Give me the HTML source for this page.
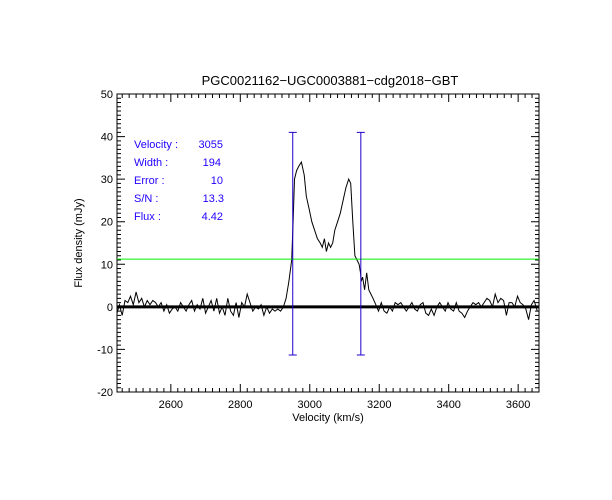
<!DOCTYPE html>
<html><head><meta charset="utf-8"><style>
body{margin:0;background:#fff;}
svg{display:block;font-family:"Liberation Sans",sans-serif;}
</style></head><body>
<svg id="chart" width="612" height="500">
<rect width="612" height="500" fill="#fff"/>
<text x="330" y="85" font-size="13" text-anchor="middle">PGC0021162−UGC0003881−cdg2018−GBT</text>
<text x="328" y="421" font-size="11" text-anchor="middle">Velocity (km/s)</text>
<text x="0" y="0" font-size="11" text-anchor="middle" transform="translate(82,243) rotate(-90)">Flux density (mJy)</text>
<g fill="#2200ff" font-size="11">
<text x="134" y="148">Velocity :</text><text x="223" y="148" text-anchor="end">3055</text>
<text x="134" y="166">Width :</text><text x="221" y="166" text-anchor="end">194</text>
<text x="134" y="184">Error :</text><text x="223" y="184" text-anchor="end">10</text>
<text x="134" y="202">S/N :</text><text x="224" y="202" text-anchor="end">13.3</text>
<text x="134" y="220">Flux :</text><text x="223" y="220" text-anchor="end">4.42</text>
</g>
</svg>
<script>
const velocities=[2445,2452,2460,2468,2476,2484,2492,2500,2508,2516,2524,2532,2540,2548,2556,2564,2572,2580,2588,2596,2604,2612,2620,2628,2636,2644,2652,2660,2668,2676,2684,2692,2700,2708,2716,2724,2732,2740,2748,2756,2764,2772,2780,2788,2796,2804,2812,2820,2828,2836,2844,2852,2860,2868,2876,2884,2892,2900,2908,2916,2924,2932,2940,2948,2952,2956,2962,2968,2976,2984,2990,2998,3006,3014,3022,3030,3036,3042,3048,3054,3060,3066,3072,3080,3088,3096,3104,3112,3118,3124,3130,3136,3142,3146,3148,3152,3158,3164,3170,3176,3182,3190,3198,3206,3214,3222,3230,3238,3246,3254,3262,3270,3278,3286,3294,3302,3310,3318,3326,3334,3342,3350,3358,3366,3374,3382,3390,3398,3406,3414,3422,3430,3438,3446,3454,3462,3470,3478,3486,3494,3502,3510,3518,3526,3534,3542,3550,3558,3566,3574,3582,3590,3598,3606,3614,3622,3630,3638,3646,3655];
const fluxes=[-1.5,0.5,-2,1.5,1,2.5,0.5,3.5,1,2,0,1.5,0.5,1.5,1,0,1,-1,0.5,-1.5,-0.5,0,-1,1,0,-1,0.5,1.5,-1,0.5,-0.5,2,-1.5,0,1.5,-1,2,-1.5,0,-2,2,-1,-2,1,-2.5,1,0,3,1,-1,0,-0.5,0.5,-2,0,-1.5,-0.5,-1,-0.5,-1,0,2,6,11,20,30,32,33,34,31,26,23,20,18,16,15,14,16,13,15,14,15,18,20,22,25,28,30,29,20,12,11,10,8,6,7,4,8,4,3,2,0.5,-1,1,-1,-1.5,0,-1,1,0.5,1,0,-1,0,1,-0.5,-1,0.5,1,-1.5,-2,-0.5,-2,0,1,0,-1,1,-0.5,-1,1,-1,-1.5,-2.5,-1,0,1,0.5,1,0,1,2,1.5,0,3,1,2,1.5,-2,1,1,0,2.5,1,0.5,-0.5,-3,0.5,1.5,-1,0.5,2,-1,0.5,-1,0,1,2.5,-2,0.5,-1,-0.5,1];
const xTicks=[2600,2800,3000,3200,3400,3600];
const yTicks=[-20,-10,0,10,20,30,40,50];
const markerVel=[2951,3147];
const markerRange=[-11.3,41];
const threshold=[11.2];
const X0=2445,X1=3660,Y0=-20,Y1=50;
const L=117,R=539,T=94,B=392;
const sx=v=>L+(v-X0)/(X1-X0)*(R-L);
const sy=v=>B-(v-Y0)/(Y1-Y0)*(B-T);
const svg=document.getElementById('chart');
const NS='http://www.w3.org/2000/svg';
function mk(tag,attrs){const e=document.createElementNS(NS,tag);for(const k in attrs)e.setAttribute(k,attrs[k]);svg.appendChild(e);return e;}
let fr=mk('rect',{x:L,y:T,width:R-L,height:B-T,fill:'none',stroke:'#000','stroke-width':1});


let td='';
for(let v=2460;v<=X1;v+=20){const x=sx(v);const maj=v%200===0;const l=maj?8:4;td+=`M${x},${B}v${-l}M${x},${T}v${l}`;}
for(let v=Y0;v<=Y1;v+=1){const y=sy(v);const maj=v%10===0;const l=maj?8:4;td+=`M${L},${y}h${l}M${R},${y}h${-l}`;}
let tk=mk('path',{d:td,stroke:'#000','stroke-width':1,fill:'none'});


xTicks.forEach(v=>{const t=mk('text',{x:sx(v),y:B+16,'font-size':11,'text-anchor':'middle'});t.textContent=v;

});
yTicks.forEach(v=>{const t=mk('text',{x:L-4,y:sy(v)+4,'font-size':11,'text-anchor':'end'});t.textContent=v;

});
let z=mk('line',{x1:L,x2:R,y1:sy(0),y2:sy(0),stroke:'#000','stroke-width':3});


let pd=velocities.map((v,i)=>(i?'L':'M')+sx(v).toFixed(1)+','+sy(fluxes[i]).toFixed(1)).join('');
let sp=mk('path',{d:pd,stroke:'#000','stroke-width':1,fill:'none'});


threshold.forEach(t=>{let g=mk('line',{x1:L,x2:R,y1:sy(t),y2:sy(t),stroke:'#00ee00','stroke-width':1});

});
markerVel.forEach(v=>{const x=sx(v);
let m=mk('path',{d:`M${x},${sy(markerRange[0])}V${sy(markerRange[1])}M${x-4},${sy(markerRange[0])}h8M${x-4},${sy(markerRange[1])}h8`,stroke:'#2200cc','stroke-width':1,fill:'none'});

});
</script>
</body></html>
